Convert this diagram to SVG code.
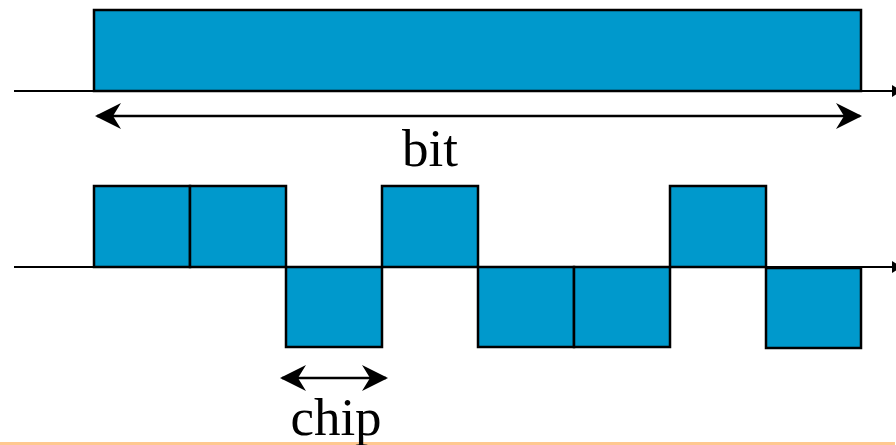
<svg xmlns="http://www.w3.org/2000/svg" width="896" height="445" viewBox="0 0 896 445">
  <style>
    .pulse { fill: #0099cc; stroke: #000; stroke-width: 2.5; }
    .axis { stroke: #000; stroke-width: 2; fill: none; }
    .dim { stroke: #000; stroke-width: 2.5; fill: none; }
    .label { font-family: "Liberation Serif", "Times New Roman", serif; font-size: 53px; fill: #000; text-anchor: middle; }
  </style>
  <defs>
    <marker id="barb" viewBox="0 0 26 26" refX="24" refY="13" markerWidth="26" markerHeight="26" markerUnits="userSpaceOnUse" orient="auto-start-reverse">
      <path d="M0,0 L26,13 L0,26 L8,13 Z" fill="#000"/>
    </marker>
    <marker id="axisEnd" viewBox="0 0 10 12" refX="2" refY="6" markerWidth="10" markerHeight="12" markerUnits="userSpaceOnUse" orient="auto">
      <path d="M0,0 L10,6 L0,12 Z" fill="#000"/>
    </marker>
  </defs>

  <rect x="0" y="442" width="895" height="3" fill="#ffc890"/>

  <g id="bit-pulse">
    <rect class="pulse" x="94" y="10" width="767" height="81"/>
  </g>

  <g id="chip-sequence">
    <rect class="pulse" x="94" y="186" width="96" height="81"/>
    <rect class="pulse" x="190" y="186" width="96" height="81"/>
    <rect class="pulse" x="286" y="267" width="96" height="80"/>
    <rect class="pulse" x="382" y="186" width="96" height="81"/>
    <rect class="pulse" x="478" y="267" width="96" height="80"/>
    <rect class="pulse" x="574" y="267" width="96" height="80"/>
    <rect class="pulse" x="670" y="186" width="96" height="81"/>
    <rect class="pulse" x="766" y="268" width="95" height="80"/>
  </g>

  <g id="connectors">
    <line class="axis" x1="14" y1="91" x2="894" y2="91" marker-end="url(#axisEnd)"/>
    <line class="axis" x1="14" y1="267" x2="894" y2="267" marker-end="url(#axisEnd)"/>
    <line class="dim" x1="97" y1="116" x2="860" y2="116" marker-start="url(#barb)" marker-end="url(#barb)"/>
    <line class="dim" x1="282" y1="378" x2="386" y2="378" marker-start="url(#barb)" marker-end="url(#barb)"/>
  </g>

  <g id="labels">
    <text class="label" x="430" y="166">bit</text>
    <text class="label" x="336" y="435">chip</text>
  </g>
</svg>
